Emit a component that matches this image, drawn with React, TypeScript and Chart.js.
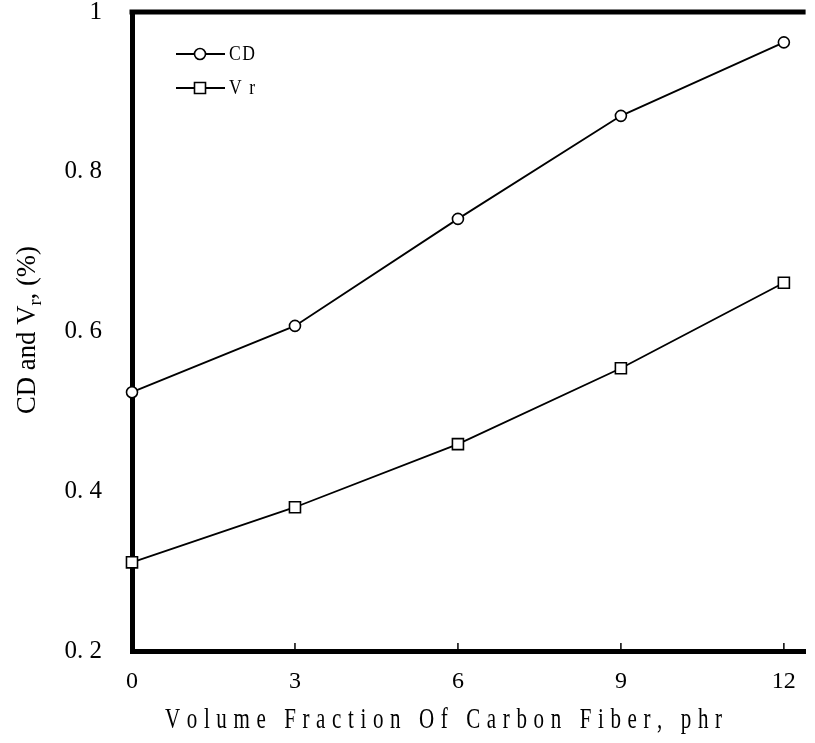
import React, { useEffect, useRef } from 'react';
import { Chart, registerables } from 'chart.js';

Chart.register(...registerables);

const fiberPhr = [0, 3, 6, 9, 12];
const cdValues = [0.524, 0.607, 0.741, 0.870, 0.962];
const vrValues = [0.311, 0.380, 0.459, 0.554, 0.661];
const xTickValues = [0, 3, 6, 9, 12];
const yTickValues = [0.2, 0.4, 0.6, 0.8, 1.0];
const seriesNames = ['CD', 'Vr'];
const xTitle = 'Volume Fraction Of Carbon Fiber, phr';
const yTitleParts = ['CD and V', 'r', ', (%)'];

const FONT = '"Liberation Serif", "DejaVu Serif", serif';

const fmtY = (v: number) => (Math.abs(v - 1) < 1e-9 ? '1' : v.toFixed(1).replace('.', '. '));

// draw text char by char, horizontally condensed, spread to fit a target width
function drawSpread(ctx: CanvasRenderingContext2D, text: string, x0: number, y: number, target: number, sx: number) {
  const chars = text.split('');
  const widths = chars.map((c) => ctx.measureText(c).width * sx);
  const total = widths.reduce((a, b) => a + b, 0);
  const gap = chars.length > 1 ? (target - total) / (chars.length - 1) : 0;
  let x = x0;
  chars.forEach((c, i) => {
    ctx.save();
    ctx.translate(x, y);
    ctx.scale(sx, 1);
    ctx.fillText(c, 0, 0);
    ctx.restore();
    x += widths[i] + gap;
  });
}

const decor = {
  id: 'decor',
  afterDraw(chart: any) {
    const ctx: CanvasRenderingContext2D = chart.ctx;
    const { left, right, top, bottom } = chart.chartArea;
    const xs = chart.scales.x;
    ctx.save();
    // top frame line
    ctx.strokeStyle = '#000';
    ctx.lineWidth = 5;
    ctx.beginPath();
    ctx.moveTo(left - 2.5, top);
    ctx.lineTo(right, top);
    ctx.stroke();
    // inward x ticks
    ctx.lineWidth = 1.5;
    xTickValues.forEach((v) => {
      if (v === 0) return;
      const px = xs.getPixelForValue(v);
      ctx.beginPath();
      ctx.moveTo(px, bottom - 2);
      ctx.lineTo(px, bottom - 8);
      ctx.stroke();
    });

    // legend
    ctx.fillStyle = '#000';
    ctx.textBaseline = 'middle';
    ctx.textAlign = 'left';
    ctx.font = `22px ${FONT}`;
    chart.data.datasets.forEach((ds: any, i: number) => {
      const y = 54 + i * 34;
      ctx.lineWidth = 1.8;
      ctx.strokeStyle = '#000';
      ctx.beginPath();
      ctx.moveTo(176, y);
      ctx.lineTo(225, y);
      ctx.stroke();
      ctx.fillStyle = '#fff';
      ctx.lineWidth = 1.6;
      ctx.beginPath();
      if (ds.pointStyle === 'rect') {
        ctx.rect(200 - 5.5, y - 5.5, 11, 11);
      } else {
        ctx.arc(200, y, 5.5, 0, Math.PI * 2);
      }
      ctx.fill();
      ctx.stroke();
      ctx.fillStyle = '#000';
      drawSpread(ctx, seriesNames[i], 229, y, 26, 0.8);
    });

    // x title
    ctx.font = `30px ${FONT}`;
    ctx.textBaseline = 'middle';
    drawSpread(ctx, xTitle, 165, 720, 557, 0.7);

    // y title (rotated, with subscript)
    ctx.save();
    ctx.translate(28, 330);
    ctx.rotate(-Math.PI / 2);
    const mainFont = `28px ${FONT}`;
    const subFont = `19px ${FONT}`;
    ctx.font = mainFont;
    const w1 = ctx.measureText(yTitleParts[0]).width;
    const w3 = ctx.measureText(yTitleParts[2]).width;
    ctx.font = subFont;
    const w2 = ctx.measureText(yTitleParts[1]).width;
    const W = w1 + w2 + w3;
    const target = 168;
    const s = target / W;
    ctx.scale(s, 1);
    let x = -W / 2;
    ctx.textBaseline = 'middle';
    ctx.font = mainFont;
    ctx.fillText(yTitleParts[0], x, 0);
    x += w1;
    ctx.font = subFont;
    ctx.fillText(yTitleParts[1], x, 8);
    x += w2;
    ctx.font = mainFont;
    ctx.fillText(yTitleParts[2], x, 0);
    ctx.restore();

    ctx.restore();
  },
};

export default function App() {
  const ref = useRef<HTMLCanvasElement | null>(null);
  useEffect(() => {
    const canvas = ref.current!;
    const mk = (vals: number[]) => fiberPhr.map((x, i) => ({ x, y: vals[i] }));
    const chart = new Chart(canvas, {
      type: 'line',
      data: {
        datasets: [
          {
            label: seriesNames[0],
            data: mk(cdValues),
            borderColor: '#000',
            borderWidth: 1.8,
            pointStyle: 'circle',
            pointRadius: 5.5,
            pointBorderWidth: 1.6,
            pointBackgroundColor: '#fff',
            pointBorderColor: '#000',
            tension: 0,
            clip: false,
          } as any,
          {
            label: seriesNames[1],
            data: mk(vrValues),
            borderColor: '#000',
            borderWidth: 1.8,
            pointStyle: 'rect',
            pointRadius: 7.8,
            pointBorderWidth: 1.6,
            pointBackgroundColor: '#fff',
            pointBorderColor: '#000',
            tension: 0,
            clip: false,
          } as any,
        ],
      },
      options: {
        responsive: false,
        animation: false,
        devicePixelRatio: 1,
        layout: { padding: { top: 12, right: 0, left: 0, bottom: 0 } },
        plugins: { legend: { display: false }, tooltip: { enabled: false } },
        scales: {
          x: {
            type: 'linear',
            min: 0,
            max: 12.4,
            z: 1,
            afterBuildTicks: (s: any) => {
              s.ticks = xTickValues.map((v) => ({ value: v }));
            },
            afterFit: (s: any) => {
              s.height = 92;
              s.paddingLeft = 0;
              s.paddingRight = 0;
            },
            grid: { display: false },
            border: { display: true, width: 5, color: '#000' },
            ticks: {
              color: '#000',
              font: { family: FONT, size: 24 },
              padding: 8,
              maxRotation: 0,
              autoSkip: false,
              callback: (v: any) => String(v),
            },
          },
          y: {
            type: 'linear',
            min: 0.2,
            max: 1,
            z: 1,
            afterBuildTicks: (s: any) => {
              s.ticks = yTickValues.map((v) => ({ value: v }));
            },
            afterFit: (s: any) => {
              s.width = 132;
              s.paddingTop = 0;
              s.paddingBottom = 0;
            },
            grid: { display: false },
            border: { display: true, width: 5, color: '#000' },
            ticks: {
              color: '#000',
              font: { family: FONT, size: 25 },
              padding: 22,
              autoSkip: false,
              callback: (v: any) => fmtY(Number(v)),
            },
          },
        },
      },
      plugins: [decor],
    });
    return () => chart.destroy();
  }, []);
  return (
    <div style={{ position: 'fixed', left: 0, top: 0, width: 815, height: 743, background: '#fff' }}>
      <canvas ref={ref} width={815} height={743} style={{ display: 'block' }} />
    </div>
  );
}
